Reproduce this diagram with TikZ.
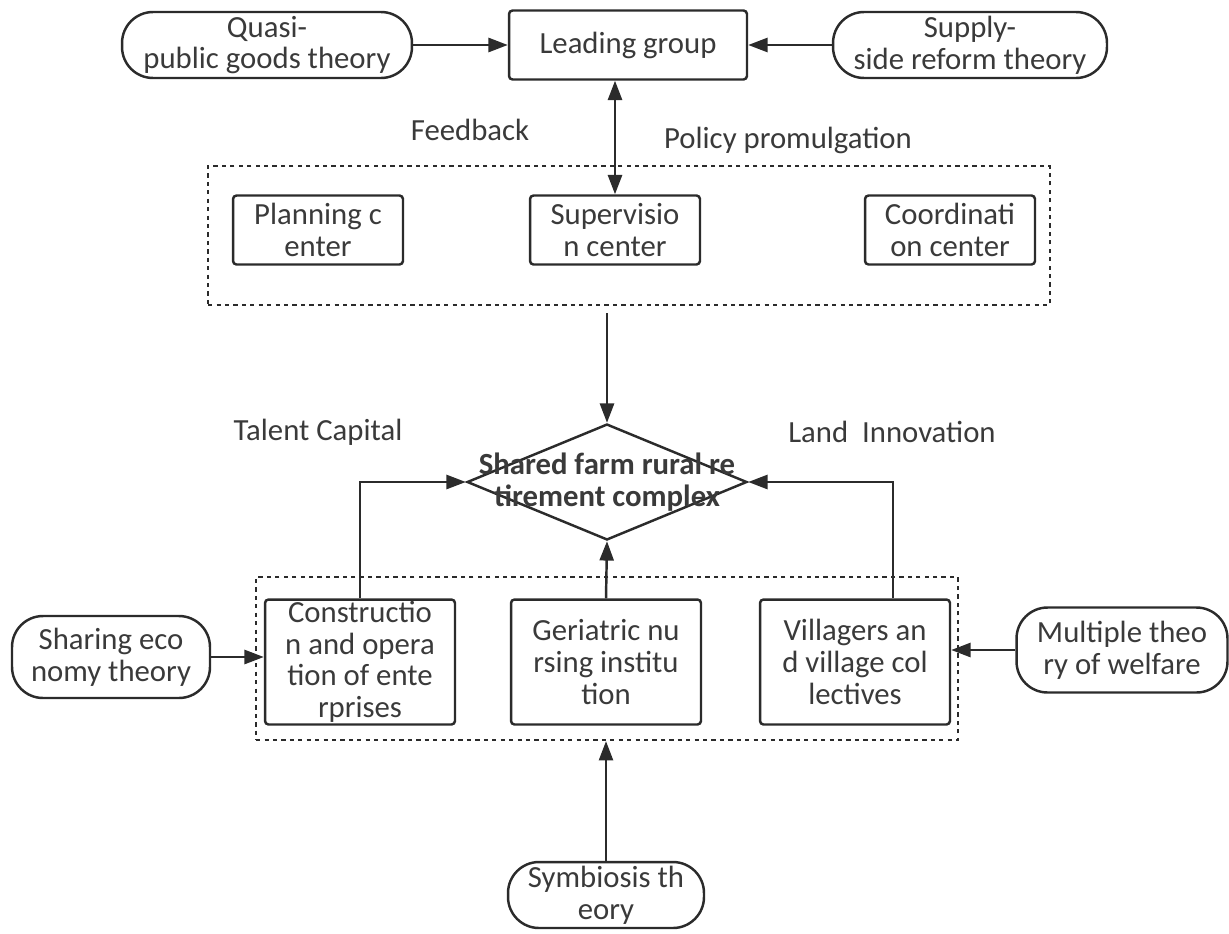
\documentclass[tikz,border=0pt]{standalone}
\usepackage{fontspec}
\setmainfont{Carlito}
\usetikzlibrary{arrows.meta,shapes.geometric}

\definecolor{ink}{HTML}{2B2B2B}
\definecolor{txt}{HTML}{3A3A3A}

\tikzset{
  every node/.style={font=\fontsize{17.5}{18}\selectfont, text=txt},
  theory/.style={draw=ink, line width=1.4pt, rounded corners=0.62cm,
    inner sep=0pt, align=center, minimum height=1.32cm},
  unit/.style={draw=ink, line width=1.4pt, rounded corners=2pt,
    inner sep=0pt, align=center},
  grp/.style={draw=ink, line width=1.3pt, dash pattern=on 2.4pt off 2.4pt, inner sep=0pt},
  conn/.style={draw=ink, line width=1.4pt, -{Triangle[length=11pt,width=8pt]}},
}

\begin{document}
\begin{tikzpicture}[x=0.02cm, y=-0.02cm] %---- pixel grid, y runs down
\useasboundingbox (0,0) rectangle (1229,933);

% --- top row
\node[unit, minimum width=4.76cm, minimum height=1.38cm] (lead) at (628,45) {Leading group};
\node[theory, minimum width=5.8cm] (quasi) at (267,45) {Quasi-\\public goods theory};
\node[theory, minimum width=5.48cm] (supply) at (970,45) {Supply-\\side reform theory};

% --- centres
\node[grp, minimum width=16.84cm, minimum height=2.78cm] (topgrp) at (629,235.5) {};
\node[unit, minimum width=3.4cm, minimum height=1.38cm] (plan) at (318,230) {Planning c\\enter};
\node[unit, minimum width=3.4cm, minimum height=1.38cm] (superv) at (615,230) {Supervisio\\n center};
\node[unit, minimum width=3.4cm, minimum height=1.38cm] (coord) at (950,230) {Coordinati\\on center};

% --- complex
\node[draw=ink, line width=1.4pt, shape=diamond, inner sep=0pt,
      minimum width=5.6cm, minimum height=2.32cm] (core) at (607,482) {};
\node[font=\bfseries\fontsize{17.5}{18}\selectfont, align=center] (corelbl) at (core.center)
  {Shared farm rural re\\tirement complex};

% --- bottom row
\node[grp, minimum width=14.04cm, minimum height=3.26cm] (botgrp) at (607,658.5) {};
\node[unit, minimum width=3.8cm, minimum height=2.5cm] (constr) at (360,662)
  {Constructio\\n and opera\\tion of ente\\rprises};
\node[unit, minimum width=3.8cm, minimum height=2.5cm] (geri) at (606,662)
  {Geriatric nu\\rsing institu\\tion};
\node[unit, minimum width=3.8cm, minimum height=2.5cm] (villa) at (855,662)
  {Villagers an\\d village col\\lectives};
\node[theory, minimum width=3.96cm, minimum height=1.64cm] (share) at (111,657) {Sharing eco\\nomy theory};
\node[theory, minimum width=4.22cm, minimum height=1.7cm] (multi) at (1122,650) {Multiple theo\\ry of welfare};
\node[theory, minimum width=3.92cm] (symb) at (606,895) {Symbiosis th\\eory};

% --- labels
\node (fb) at (470,130) {Feedback};
\node (pp) at (788,140) {Policy promulgation};
\node (tc) at (318,432) {Talent Capital};
\node (li) at (892,432) {Land\ \ Innovation};

% --- connectors
\draw[conn] (quasi.east) -- (lead.west);
\draw[conn] (supply.west) -- (lead.east);
\draw[conn, {Triangle[length=11pt,width=8pt]}-{Triangle[length=11pt,width=8pt]}]
  (superv.north |- lead.south) -- (superv.north);
\draw[conn, shorten <=4pt] (topgrp.south -| core.north) -- (core.north);
\draw[conn] (constr.north) |- (core.west);
\draw[conn] ([xshift=0.76cm]villa.north) |- (core.east);
\draw[conn] (geri.north) -- (core.south);
\draw[conn] (share.east) -- (share.east -| constr.west);
\draw[conn] (multi.west) -- (multi.west -| villa.east);
\draw[conn] (symb.north) -- (symb.north |- botgrp.south);
\end{tikzpicture}
\end{document}
